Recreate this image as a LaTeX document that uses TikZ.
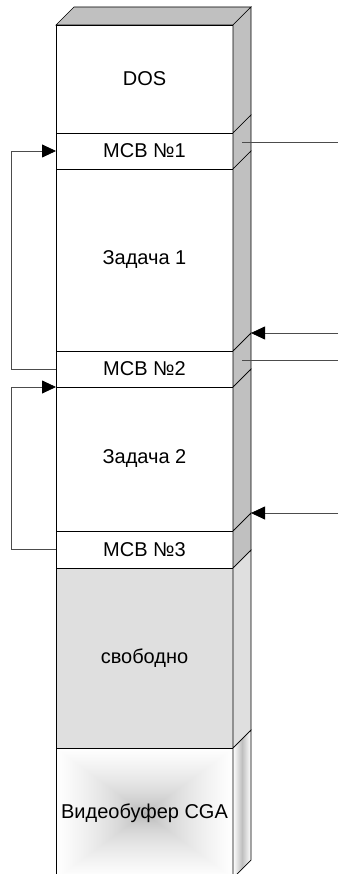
\documentclass[tikz,border=0pt]{standalone}
\usepackage{fontspec}
\setmainfont{Liberation Sans}
\usetikzlibrary{arrows.meta,calc}
\definecolor{sidegray}{HTML}{C0C0C0}
\definecolor{freegray}{HTML}{DFDFDF}
\pgfdeclarefunctionalshading{rectgrad}{\pgfpoint{-50bp}{-50bp}}{\pgfpoint{50bp}{50bp}}{}{abs 25 div exch abs 25 div 2 copy lt {exch} if pop dup 1 gt {pop 1} if sqrt 0.33 mul 0.67 add dup dup}
\begin{document}
\begin{tikzpicture}[x=1pt,y=-1pt,
  block/.style={draw=black,line width=0.7pt,minimum width=177pt,inner sep=0pt,outer sep=0pt,anchor=north west,font=\fontsize{20}{24}\selectfont},
  sideface/.style={draw=black,line width=0.7pt,fill=sidegray},
  conn/.style={draw=black!70,line width=0.8pt},
  tip/.style={-{Triangle[length=14pt,width=13pt,color=black]}}]
\useasboundingbox (0,0) rectangle (338,874);
\clip (0,0) rectangle (338,874);
% front faces
\node[block,minimum height=108pt] (dos) at (56,25) {DOS};
\node[block,minimum height=36pt] (mcb1) at (56,133) {MCB №1};
\node[block,minimum height=182pt] (t1) at (56,169) {Задача 1};
\node[block,minimum height=36pt] (mcb2) at (56,351) {MCB №2};
\node[block,minimum height=144pt] (t2) at (56,387) {Задача 2};
\node[block,minimum height=37pt] (mcb3) at (56,531) {MCB №3};
\node[block,minimum height=180pt,fill=freegray] (free) at (56,568) {свободно};
\node[block,minimum height=130pt,shade,shading=rectgrad] (vid) at (56,748) {Видеобуфер CGA};
% top face
\draw[sideface] (dos.north west) -- ++(18,-18) -- ($(dos.north east)+(18,-18)$) -- (dos.north east) -- cycle;
% side faces
\foreach \n in {dos,mcb1,t1,mcb2,t2,mcb3}{
  \draw[sideface] (\n.north east) -- ++(18,-18) -- ($(\n.south east)+(18,-18)$) -- (\n.south east) -- cycle;
}
\draw[sideface,fill=freegray] (free.north east) -- ++(18,-18) -- ($(free.south east)+(18,-18)$) -- (free.south east) -- cycle;
\shade[left color=white,right color=white,middle color=black!25] (vid.north east) -- ++(18,-18) -- ($(vid.south east)+(18,-18)$) -- (vid.south east) -- cycle;
\draw[line width=0.7pt] (vid.north east) -- ++(18,-18) -- ($(vid.south east)+(18,-18)$) -- (vid.south east) -- cycle;
% loops on the left
\draw[conn,tip] (mcb2.west) -- ++(-45,0) |- (mcb1.west);
\draw[conn,tip] (mcb3.west) -- ++(-45,0) |- (t2.north west);
% pointers on the right
\coordinate (r1) at (338,333);
\coordinate (r2) at (338,513);
\draw[conn,tip] (r1) -- ($(t1.south east)+(18,-18)$);
\draw[conn,tip] (r2) -- ($(t2.south east)+(18,-18)$);
\coordinate (g1) at (338,142);
\coordinate (g2) at (338,360);
\draw[conn] ($(mcb1.east)+(9,-9)$) -- (g1);
\draw[conn] ($(mcb2.east)+(9,-9)$) -- (g2);
\end{tikzpicture}
\end{document}
